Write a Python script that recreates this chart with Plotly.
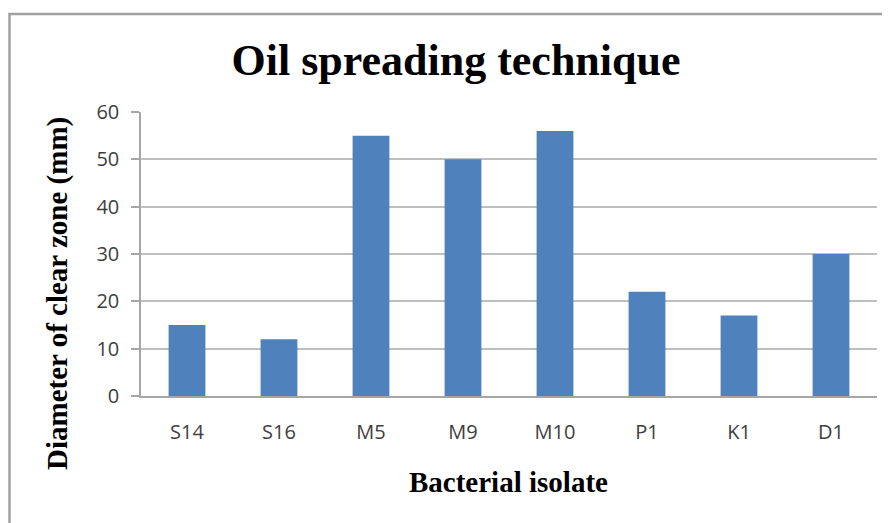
import plotly.graph_objects as go

categories = ["S14", "S16", "M5", "M9", "M10", "P1", "K1", "D1"]
diameters = [15, 12, 55, 50, 56, 22, 17, 30]
y_ticks = [0, 10, 20, 30, 40, 50, 60]

OFF = 8  # page body margin
W, H = 890 - OFF, 523 - OFF
# plot area in page pixels: x 141..877, y 112..396
L, T = 141 - OFF, 112 - OFF
R = W - (877 - OFF)
B = H - (396 - OFF)
PW, PH = W - L - R, H - T - B

def px_x(x):  # page px -> paper
    return (x - OFF - L) / PW

def px_y(y):
    return (H - B - (y - OFF)) / PH

fig = go.Figure(go.Bar(x=categories, y=diameters, marker_color="#4F81BD",
                       marker_line_width=0))

tick_font = dict(family="Open Sans", size=20, color="#404040")
fig.update_layout(
    width=W, height=H,
    margin=dict(l=L, r=R, t=T, b=B, pad=0),
    paper_bgcolor="white", plot_bgcolor="white",
    bargap=0.6, showlegend=False,
    title=dict(text="<b>Oil spreading technique</b>",
               font=dict(family="Liberation Serif", size=44, color="black"),
               x=(456 - OFF) / W, xanchor="center", xref="container",
               y=1 - (60 - OFF) / H, yanchor="middle", yref="container"),
    xaxis=dict(showline=True, linecolor="#A6A6A6", linewidth=1.5,
               ticks="", tickfont=tick_font, ticklabelstandoff=17,
               showgrid=False),
    yaxis=dict(range=[0, 60], tickvals=y_ticks, showline=True, linecolor="#A6A6A6",
               linewidth=1.5, ticks="outside", ticklen=8, tickcolor="#A6A6A6",
               tickwidth=1.5, tickfont=tick_font, ticklabelstandoff=8,
               showgrid=True, gridcolor="#BFBFBF", gridwidth=1.5, zeroline=False),
    annotations=[
        dict(text="<b>Diameter of clear zone (mm)</b>", textangle=-90,
             xref="paper", yref="paper", x=px_x(57), y=px_y(294),
             xanchor="center", yanchor="middle", showarrow=False,
             font=dict(family="Liberation Serif", size=29, color="black")),
        dict(text="<b>Bacterial isolate</b>",
             xref="paper", yref="paper", x=px_x(508), y=px_y(482),
             xanchor="center", yanchor="middle", showarrow=False,
             font=dict(family="Liberation Serif", size=29, color="black")),
    ],
    shapes=[dict(type="path", xref="paper", yref="paper",
                 path=f"M {px_x(900)} {px_y(14)} L {px_x(9.5)} {px_y(14)} L {px_x(9.5)} {px_y(540)}",
                 line=dict(color="#A0A0A0", width=2.5))],
)

fig.write_html("out.html")
